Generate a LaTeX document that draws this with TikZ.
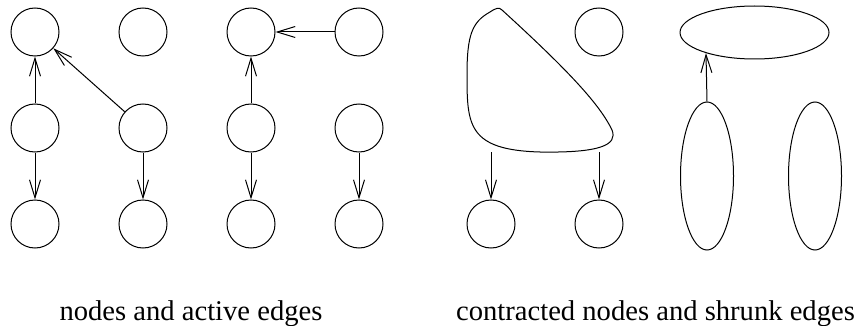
\documentclass[tikz,border=0pt]{standalone}
\usepackage{amsmath, amssymb}
\usepackage{fontspec}
\setmainfont{Liberation Serif}
\usetikzlibrary{arrows.meta, shapes.geometric}

\begin{document}
\begin{tikzpicture}[x=1pt, y=-1pt, line width=1pt,
    vert/.style={draw, circle, minimum size=48pt, inner sep=0pt},
    blob/.style={draw, ellipse, inner sep=0pt},
    >={Straight Barb[length=18pt, width=11pt, line width=1pt]},
    caption/.style={anchor=base, font=\fontsize{28.6}{34}\selectfont}]
            \useasboundingbox (0, 0) rectangle (859, 326);
            \foreach \c/\x in {1/35, 2/143, 3/251, 4/359}
              \foreach \r/\y in {1/32, 2/128, 3/224}
                \node[vert] (v\c\r) at (\x, \y) {};
            \draw[->] (v12) -- (v11);
            \draw[->] (v22) -- (v11);
            \draw[->] (v12) -- (v13);
            \draw[->] (v22) -- (v23);
            \draw[->] (v32) -- (v31);
            \draw[->] (v41) -- (v31);
            \draw[->] (v32) -- (v33);
            \draw[->] (v42) -- (v43);
            \draw (490, 12) .. controls (472, 22) and (467, 35) .. (467, 75)
              .. controls (467, 125) and (468, 150) .. (540, 152)
              .. controls (600, 153) and (618, 145) .. (612, 130)
              .. controls (600, 105) and (570, 72) .. (502, 10)
              .. controls (499, 7) and (496, 8) .. (490, 12) -- cycle;
            \coordinate (bl) at (491, 152);
            \coordinate (br) at (599, 152);
            \node[vert] (w1) at (599, 32) {};
            \node[vert] (w2) at (491, 224) {};
            \node[vert] (w3) at (599, 224) {};
            \draw[->] (bl) -- (w2);
            \draw[->] (br) -- (w3);
            \node[blob, minimum width=149pt, minimum height=53pt] (e1) at (754.5, 32.5) {};
            \node[blob, minimum width=53pt, minimum height=148pt] (e2) at (707, 176) {};
            \node[blob, minimum width=53pt, minimum height=148pt] (e3) at (815, 176) {};
            \draw[->] (e2.north) -- (e1.203);
            \node[caption] (t1) at (191, 320) {nodes and active edges};
            \node[caption] (t2) at (655.5, 320) {contracted nodes and shrunk edges};
          \end{tikzpicture}
\end{document}
